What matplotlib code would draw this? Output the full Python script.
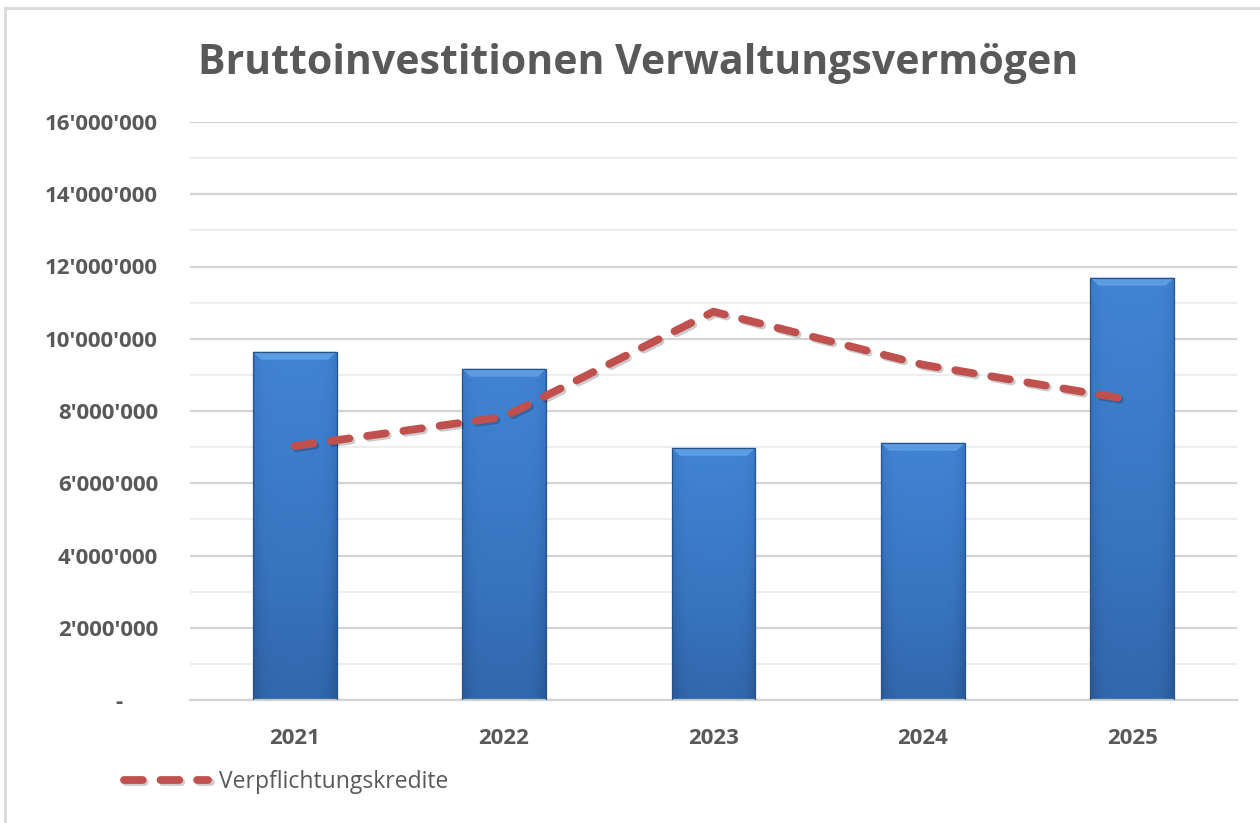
import numpy as np
import matplotlib
matplotlib.use('Agg')
import matplotlib.pyplot as plt
import matplotlib.patheffects as pe
from matplotlib.colors import LinearSegmentedColormap
from matplotlib.ticker import FuncFormatter, MultipleLocator

# Data
years = ['2021', '2022', '2023', '2024', '2025']
investitionen = [9640000, 9170000, 6980000, 7120000, 11690000]
verpflichtungskredite = [7030000, 7840000, 10750000, 9280000, 8300000]

text_col = '#595959'
plt.rcParams['font.family'] = ['Open Sans', 'DejaVu Sans']

fig = plt.figure(figsize=(12.6, 8.23), dpi=100)
ax = fig.add_axes([190 / 1260, 1 - 700 / 823, 1047 / 1260, 578 / 823])

# outer chart frame (left and top only visible in the reference)
fig.add_artist(plt.Line2D([5 / 1260, 5 / 1260], [0, 1 - 8 / 823], transform=fig.transFigure,
                          color='#d9d9d9', lw=2))
fig.add_artist(plt.Line2D([5 / 1260, 1], [1 - 8 / 823, 1 - 8 / 823], transform=fig.transFigure,
                          color='#d9d9d9', lw=2))

x = np.arange(len(years))
bar_w = 0.4

# gradient fill for the bars
cmap = LinearSegmentedColormap.from_list('bar', ['#2a5a98', '#3874bf', '#4286d6'])
ny, nx = 200, 40
gy = np.linspace(0, 1, ny)[:, None]
gx = np.linspace(-1, 1, nx)[None, :]
grad = 0.25 + 0.7 * gy - 0.3 * np.abs(gx) ** 6

bars = ax.bar(x, investitionen, width=bar_w, color='none', edgecolor='#28528a', linewidth=0.9, zorder=3)
for rect in bars:
    bx, bw, bh = rect.get_x(), rect.get_width(), rect.get_height()
    im = ax.imshow(grad, extent=[bx, bx + bw, 0, bh], origin='lower', cmap=cmap, vmin=0, vmax=1,
                   aspect='auto', zorder=2, interpolation='bilinear')
    im.set_clip_path(rect)
    # bevel at the top
    bev = 220000
    ax.fill([bx, bx + bw, bx + bw * 0.9, bx + bw * 0.1], [bh, bh, bh - bev, bh - bev],
            color='#5c9de2', zorder=2.5, lw=0)

line, = ax.plot(x, verpflichtungskredite, color='#c0504d', lw=5.6, dashes=(2.4, 2.3),
                dash_capstyle='round', zorder=4, label='Verpflichtungskredite',
                path_effects=[pe.SimpleLineShadow(offset=(1.5, -1.5), alpha=0.2), pe.Normal()])

ax.set_xlim(-0.5, 4.5)
ax.set_ylim(0, 16000000)
ax.yaxis.set_major_locator(MultipleLocator(2000000))
ax.yaxis.set_minor_locator(MultipleLocator(1000000))


def fmt(v, pos):
    if v == 0:
        return '-      '
    return f'{int(v):,}'.replace(',', "'")


ax.yaxis.set_major_formatter(FuncFormatter(fmt))
ax.grid(axis='y', which='major', color='#d4d4d4', lw=1.6, zorder=0)
ax.grid(axis='y', which='minor', color='#eeeeee', lw=1.5, zorder=0)
ax.set_axisbelow(True)
for s in ['left', 'right', 'top']:
    ax.spines[s].set_visible(False)
ax.spines['bottom'].set_color('#d4d4d4')
ax.spines['bottom'].set_linewidth(1.6)

ax.set_xticks(x)
ax.set_xticklabels(years)
ax.tick_params(axis='y', which='both', length=0, pad=23, labelsize=16, labelcolor=text_col)
ax.tick_params(axis='x', length=0, pad=20, labelsize=16, labelcolor=text_col)
for lab in ax.get_xticklabels() + ax.get_yticklabels():
    lab.set_fontweight('bold')

fig.text(638 / 1260, 1 - 64 / 823, 'Bruttoinvestitionen Verwaltungsvermögen', ha='center', va='center',
         fontsize=29.5, fontweight='bold', color=text_col)

fig.legend(handles=[line], loc='center left', bbox_to_anchor=(103 / 1260, 1 - 782 / 823), frameon=False,
           fontsize=16.5, labelcolor=text_col, handlelength=3.7, handletextpad=0.45)

fig.savefig('out.png', dpi=100, facecolor='white')
